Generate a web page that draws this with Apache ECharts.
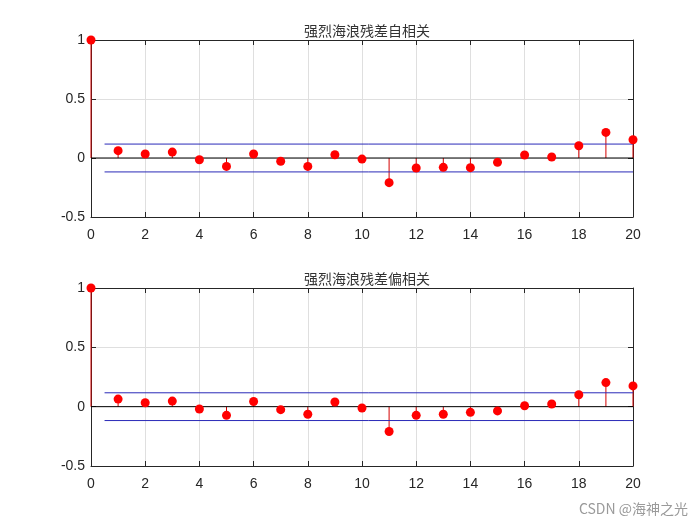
<!DOCTYPE html>
<html><head><meta charset="utf-8">
<script src="https://cdn.jsdelivr.net/npm/echarts@6/dist/echarts.min.js"></script>
<style>html,body{margin:0;padding:0;background:#fff}#c{width:700px;height:525px}</style>
</head><body><div id="c"></div>
<script>
const lags = [0,1,2,3,4,5,6,7,8,9,10,11,12,13,14,15,16,17,18,19,20];
const acfValues = [1,0.062,0.034,0.05,-0.015,-0.071,0.034,-0.028,-0.071,0.028,-0.009,-0.209,-0.085,-0.079,-0.082,-0.037,0.025,0.008,0.104,0.217,0.155];
const pacfValues = [1,0.064,0.033,0.047,-0.02,-0.073,0.044,-0.025,-0.064,0.039,-0.011,-0.209,-0.073,-0.064,-0.048,-0.036,0.008,0.022,0.1,0.203,0.175];
const acfBound = 0.118;
const pacfBound = 0.117;
const boundStart = 0.5;
const titles = ['强烈海浪残差自相关','强烈海浪残差偏相关'];
const watermark = 'CSDN @海神之光';

const chart = echarts.init(document.getElementById('c'));
const grids = [{left:91,width:542,top:40,height:177},{left:91,width:542,top:288,height:178}];
const labelStyle = {fontFamily:'Liberation Sans, Arial, sans-serif',fontSize:14,color:'#262626'};
const xAxes = [], yAxes = [], series = [];
[acfValues,pacfValues].forEach((vals,i)=>{
  xAxes.push({type:'value',gridIndex:i,min:0,max:20,interval:2,position:'bottom',
    axisLine:{onZero:false,lineStyle:{color:'#262626'}},axisTick:{inside:true,length:5,lineStyle:{color:'#262626'}},
    axisLabel:Object.assign({margin:11},labelStyle),splitLine:{show:true,lineStyle:{color:'#dfdfdf'}}});
  xAxes.push({type:'value',gridIndex:i,min:0,max:20,interval:2,position:'top',
    axisLine:{onZero:false,lineStyle:{color:'#262626'}},axisTick:{inside:true,length:5,lineStyle:{color:'#262626'}},
    axisLabel:{show:false},splitLine:{show:false}});
  yAxes.push({type:'value',gridIndex:i,min:-0.5,max:1,interval:0.5,position:'left',
    axisLine:{show:true,onZero:false,lineStyle:{color:'#262626'}},axisTick:{show:true,inside:true,length:5,lineStyle:{color:'#262626'}},
    axisLabel:Object.assign({margin:6},labelStyle),splitLine:{show:true,lineStyle:{color:'#dfdfdf'}}});
  yAxes.push({type:'value',gridIndex:i,min:-0.5,max:1,interval:0.5,position:'right',
    axisLine:{show:true,onZero:false,lineStyle:{color:'#262626'}},axisTick:{show:true,inside:true,length:5,lineStyle:{color:'#262626'}},
    axisLabel:{show:false},splitLine:{show:false}});
  const xi = i*2, yi = i*2;
  const b = i===0 ? acfBound : pacfBound;
  series.push({type:'line',xAxisIndex:xi,yAxisIndex:yi,data:[[0,0],[20,0]],symbol:'none',silent:true,
    lineStyle:{color:'#000',width:1}});
  series.push({type:'line',xAxisIndex:xi,yAxisIndex:yi,data:[[boundStart,b],[20,b]],symbol:'none',silent:true,
    lineStyle:{color:'#2a2ab8',width:1}});
  series.push({type:'line',xAxisIndex:xi,yAxisIndex:yi,data:[[boundStart,-b],[20,-b]],symbol:'none',silent:true,
    lineStyle:{color:'#2a2ab8',width:1}});
  series.push({type:'bar',xAxisIndex:xi,yAxisIndex:yi,barWidth:1,data:lags.map((l,k)=>[l,vals[k]]),
    itemStyle:{color:'#d40000'},clip:false,silent:true});
  series.push({type:'scatter',xAxisIndex:xi,yAxisIndex:yi,data:lags.map((l,k)=>[l,vals[k]]),
    symbol:'circle',symbolSize:9,itemStyle:{color:'#ff0000',opacity:1},clip:false,silent:true,z:5});
});
chart.setOption({
  animation:false,
  backgroundColor:'#fff',
  title:[
    {text:titles[0],left:362,top:19,textAlign:'center',textStyle:{fontFamily:'Noto Sans CJK SC',fontWeight:'normal',fontSize:14,color:'#333'}},
    {text:titles[1],left:362,top:267,textAlign:'center',textStyle:{fontFamily:'Noto Sans CJK SC',fontWeight:'normal',fontSize:14,color:'#333'}}
  ],
  grid:grids,
  xAxis:xAxes,
  yAxis:yAxes,
  series:series,
  graphic:[{type:'text',right:12,bottom:9,style:{text:watermark,fontFamily:'Noto Sans CJK SC',fontSize:14,fill:'#9a9a9a'}}]
});
</script></body></html>
